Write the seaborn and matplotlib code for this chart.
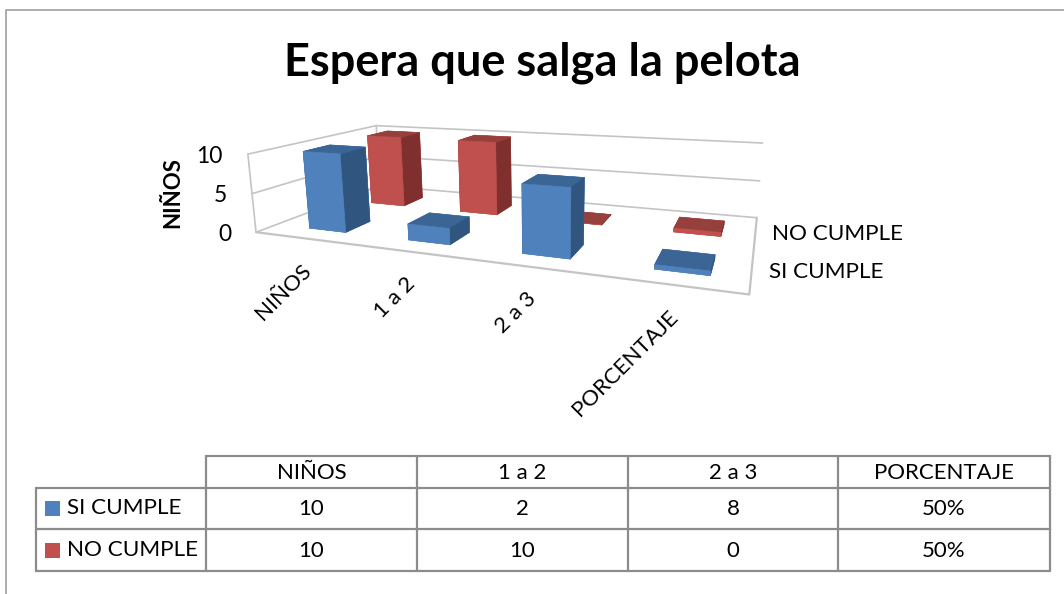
import numpy as np
import matplotlib
matplotlib.use("Agg")
import matplotlib.pyplot as plt
import seaborn as sns
from mpl_toolkits.mplot3d import proj3d

categories = ["NIÑOS", "1 a 2", "2 a 3", "PORCENTAJE"]
series = ["SI CUMPLE", "NO CUMPLE"]
si_cumple = [10, 2, 8, 0.5]
no_cumple = [10, 10, 0, 0.5]
si_labels = ["10", "2", "8", "50%"]
no_labels = ["10", "10", "0", "50%"]
z_ticks = [0, 5, 10]

sns.set_theme(style="white")
plt.rcParams['font.family'] = ['Lato', 'DejaVu Sans']

GRID = "#c4c4c4"
EDGE = "#8c8c8c"
# bottom, top, front, back, left, right faces of a bar
blue = sns.color_palette(["#4f81bd", "#3a6594", "#4f81bd", "#4f81bd", "#30557f", "#30557f"])
red = sns.color_palette(["#c0504d", "#96403d", "#c0504d", "#c0504d", "#7f302e", "#7f302e"])

fig = plt.figure(figsize=(10.64, 5.94), dpi=100)

# 3d chart, camera values fitted to the corners of the reference box
ax = fig.add_axes([(497.7 - 532) / 1064, (594 - 201.5 - 532) / 594, 1.0, 1064 / 594], projection="3d")
ax.patch.set_alpha(0)
ax.computed_zorder = False
ax.set_proj_type("persp", focal_length=0.1112)
ax.view_init(elev=12.9359, azim=-68.0899, roll=0.6346)
ax.set_box_aspect((4, 1.9121, 0.683), zoom=0.4694)
ax.set_xlim(0, 4)
ax.set_ylim(0, 2)
ax.set_zlim(0, 10)
ax.set_axis_off()

# walls, floor and gridlines stay behind the bars
for z in z_ticks:
    ax.plot([0, 0, 4], [0, 2, 2], [z, z, z], color=GRID, lw=1.2, zorder=1)
ax.plot([0, 4, 4], [0, 0, 2], [0, 0, 0], color=GRID, lw=1.6, zorder=1)
ax.plot([0, 0], [0, 0], [0, 10], color=GRID, lw=1.2, zorder=1)
ax.plot([0, 0], [2, 2], [0, 10], color=GRID, lw=1.2, zorder=1)

# back row first, left to right, so nearer bars cover farther ones
rows = [(si_cumple, blue), (no_cumple, red)]
order = 2
for row in [1, 0]:
    values, colors = rows[row]
    for i, v in enumerate(values):
        ax.bar3d(i + 0.36, row + 0.27, 0, 0.38, 0.38, v, color=colors, edgecolor=colors,
                 linewidth=0.4, shade=False, zorder=order)
        order += 1

# flat layer in pixel coordinates for title, table and page frame
over = fig.add_axes([0, 0, 1, 1], facecolor="none")
over.set_xlim(0, 1064)
over.set_ylim(594, 0)
over.axis("off")

fig.canvas.draw()


def to_px(x, y, z):
    # chart coordinates to pixel position on the flat layer
    px, py, _ = proj3d.proj_transform(x, y, z, ax.get_proj())
    return over.transData.inverted().transform(ax.transData.transform((px, py)))


for i, name in enumerate(categories):
    tx, ty = to_px(i + 0.5, 0, 0)
    over.text(tx - 2, ty + 22, name, rotation=45, ha="right", va="top",
              rotation_mode="anchor", fontsize=16, color="black")
for z in z_ticks:
    tx, ty = to_px(0, 0, z)
    over.text(tx - 25, ty + 2, str(z), ha="right", va="center", fontsize=16.5, color="black")
for row, name in enumerate(series):
    tx, ty = to_px(4, row + 0.5, 0)
    over.text(tx + 17, ty + 2, name, ha="left", va="center", fontsize=16.2, color="black")

over.plot([6, 6, 1064], [594, 10, 10], color="#a0a0a0", lw=1.2)
over.text(542, 63, "Espera que salga la pelota", ha="center", va="center",
          fontsize=32.5, fontweight="bold", color="black")
over.text(173, 193, "NIÑOS", rotation=90, ha="center", va="center",
          fontsize=16, fontweight="bold", color="black")

col_x = [206, 417, 628, 838, 1050]
row_y = [456, 488, 529, 571]
over.plot([206, 1050], [row_y[0]] * 2, color=EDGE, lw=1.6)
for y in row_y[1:]:
    over.plot([36, 1050], [y, y], color=EDGE, lw=1.6)
over.plot([36, 36], [row_y[1], row_y[3]], color=EDGE, lw=1.6)
for x in col_x:
    over.plot([x, x], [row_y[0], row_y[3]], color=EDGE, lw=1.6)

for j, name in enumerate(categories):
    cx = (col_x[j] + col_x[j + 1]) / 2
    over.text(cx, 473, name, ha="center", va="center", fontsize=16, color="black")
    over.text(cx, 509, si_labels[j], ha="center", va="center", fontsize=16, color="black")
    over.text(cx, 551, no_labels[j], ha="center", va="center", fontsize=16, color="black")

for name, y, colors in zip(series, [508, 550], [blue, red]):
    over.fill_between([45, 60], y - 7.5, y + 7.5, color=colors[0], lw=0)
    over.text(67, y, name, ha="left", va="center", fontsize=16.2, color="black")

fig.savefig("out.png", dpi=100)
